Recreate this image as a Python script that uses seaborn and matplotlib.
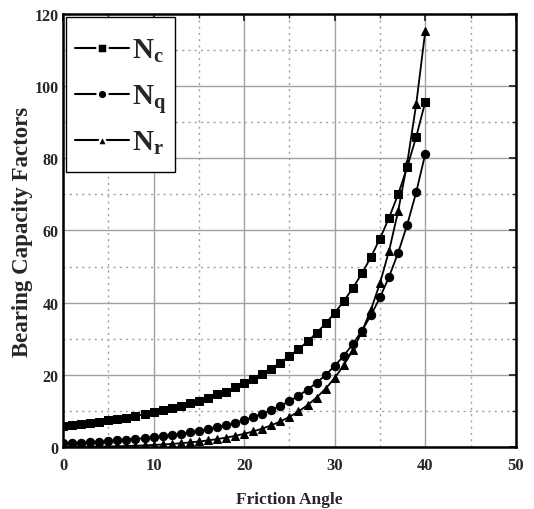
import numpy as np
import pandas as pd
import matplotlib
matplotlib.use("Agg")
import matplotlib.pyplot as plt
from matplotlib.lines import Line2D
from matplotlib.legend_handler import HandlerLine2D
from matplotlib.ticker import MultipleLocator
import seaborn as sns

# Data
phi = list(range(0, 41))
Nc = [5.70, 6.00, 6.30, 6.62, 6.97, 7.34, 7.73, 8.15, 8.60, 9.09, 9.61, 10.16, 10.76, 11.41,
      12.11, 12.86, 13.68, 14.60, 15.12, 16.56, 17.69, 18.92, 20.27, 21.75, 23.36, 25.13,
      27.09, 29.24, 31.61, 34.24, 37.16, 40.41, 44.04, 48.09, 52.64, 57.75, 63.53, 70.01,
      77.50, 85.97, 95.66]
Nq = [1.00, 1.10, 1.22, 1.35, 1.49, 1.64, 1.81, 2.00, 2.21, 2.44, 2.69, 2.98, 3.29, 3.63,
      4.02, 4.45, 4.92, 5.45, 6.04, 6.70, 7.44, 8.26, 9.19, 10.23, 11.40, 12.72, 14.21,
      15.90, 17.81, 19.98, 22.46, 25.28, 28.52, 32.23, 36.50, 41.44, 47.16, 53.80, 61.55,
      70.61, 81.27]
Nr = [0.00, 0.01, 0.04, 0.06, 0.10, 0.14, 0.20, 0.27, 0.35, 0.44, 0.56, 0.69, 0.85, 1.04,
      1.26, 1.52, 1.82, 2.18, 2.59, 3.07, 3.64, 4.31, 5.09, 6.00, 7.08, 8.34, 9.84, 11.60,
      13.70, 16.18, 19.13, 22.65, 26.87, 31.94, 38.04, 45.41, 54.36, 65.27, 78.61, 95.03,
      115.31]
series_names = ["Nc", "Nq", "Nr"]
legend_labels = [r"$\mathbf{N_c}$", r"$\mathbf{N_q}$", r"$\mathbf{N_r}$"]
marker_list = ["s", "o", "^"]

df = pd.DataFrame({"phi": phi * 3,
                   "val": Nc + Nq + Nr,
                   "factor": sum([[n] * len(phi) for n in series_names], [])})

sns.set_style("white")
plt.rcParams["font.family"] = ["Liberation Serif", "DejaVu Serif"]
plt.rcParams["font.weight"] = "bold"
plt.rcParams["mathtext.fontset"] = "custom"
plt.rcParams["mathtext.rm"] = "Liberation Serif:bold"
plt.rcParams["mathtext.bf"] = "Liberation Serif:bold"
plt.rcParams["mathtext.it"] = "Liberation Serif:bold"

fig = plt.figure(figsize=(5.34, 5.10), dpi=100)
ax = fig.add_axes([0.118, 0.1216, 0.848, 0.849])

sns.lineplot(data=df, x="phi", y="val", style="factor", markers=marker_list,
             dashes=False, color="black", linewidth=1.3, markersize=6,
             markeredgecolor="black", ax=ax, legend=False, zorder=3)

ax.set_xlim(0, 50)
ax.set_ylim(0, 120)
ax.xaxis.set_major_locator(MultipleLocator(10))
ax.xaxis.set_minor_locator(MultipleLocator(5))
ax.yaxis.set_major_locator(MultipleLocator(20))
ax.yaxis.set_minor_locator(MultipleLocator(10))
ax.grid(which="major", color="#a0a0a0", linestyle="-", linewidth=1.0, zorder=0)
ax.grid(which="minor", color="#a0a0a0", linestyle=(0, (1.5, 3)), linewidth=1.0, zorder=0)
ax.tick_params(which="major", direction="in", length=5, width=1.3,
               top=True, right=True)
ax.tick_params(axis="x", which="major", labelsize=12, pad=7)
ax.tick_params(axis="y", which="major", labelsize=11.5, pad=3)
ax.tick_params(which="minor", direction="in", length=3, width=1.0,
               top=True, right=True)
for lab in ax.get_xticklabels() + ax.get_yticklabels():
    lab.set_fontweight("bold")
for s in ax.spines.values():
    s.set_visible(True)
    s.set_color("black")
    s.set_linewidth(1.8)

ax.set_xlabel("Friction Angle", fontsize=12.5, fontweight="bold", labelpad=13)
ax.set_ylabel("Bearing Capacity Factors", fontsize=16.5, fontweight="bold", labelpad=1)


class LoweredHandler(HandlerLine2D):
    def create_artists(self, legend, orig_handle, xdescent, ydescent,
                       width, height, fontsize, trans):
        return super().create_artists(legend, orig_handle, xdescent, ydescent + 8.5,
                                      width, height, fontsize, trans)


handles = [Line2D([0], [0], color="black", linewidth=1.5, marker=m, markersize=7,
                  markerfacecolor="black", markeredgecolor="white", markeredgewidth=1.8)
           for m in marker_list]
leg = ax.legend(handles, legend_labels, loc="upper left", fontsize=21,
                handlelength=1.85, handleheight=2.05, handletextpad=0.1,
                labelspacing=0.0, borderpad=0.3, borderaxespad=0.1,
                frameon=True, fancybox=False, framealpha=1, edgecolor="black",
                handler_map={Line2D: LoweredHandler()})
leg.get_frame().set_linewidth(1.0)
leg.set_zorder(5)

fig.savefig("out.png", dpi=100)
